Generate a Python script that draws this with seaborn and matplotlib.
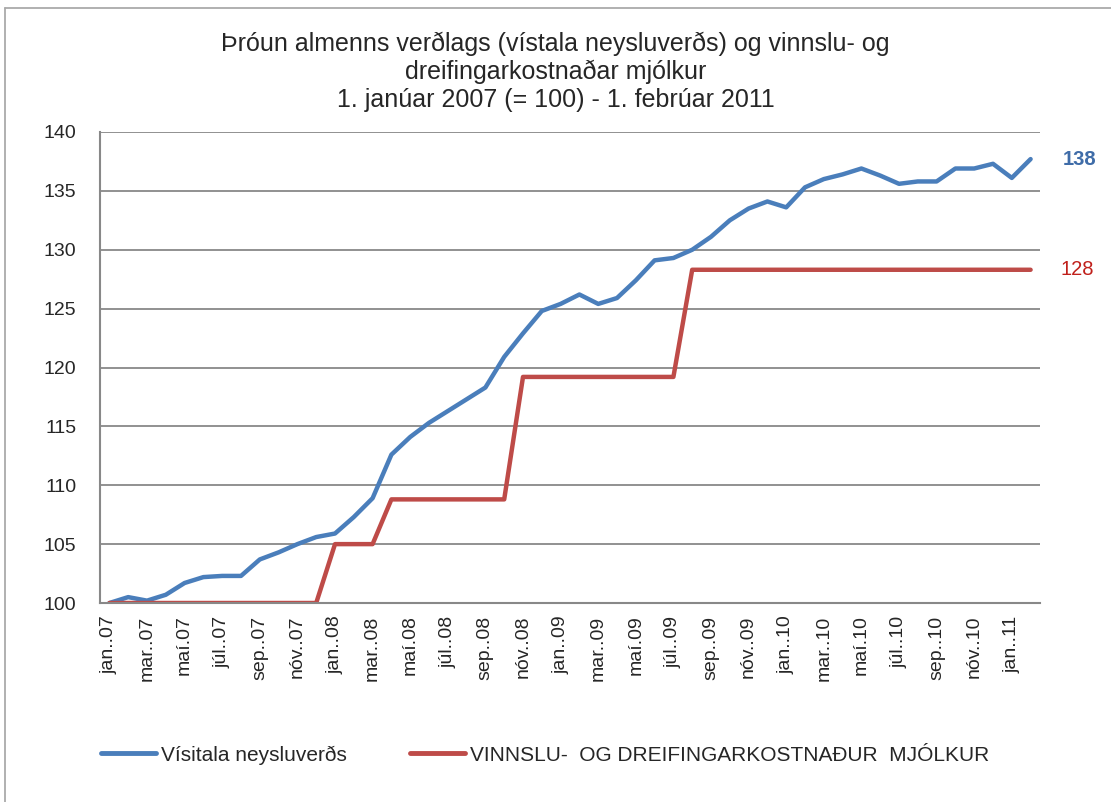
import matplotlib
matplotlib.use("Agg")
import matplotlib.pyplot as plt
import seaborn as sns
import pandas as pd
from matplotlib.lines import Line2D

# monthly values, jan 2007 - feb 2011
visitala = [
    100.0, 100.5, 100.2, 100.7, 101.7, 102.2, 102.3, 102.3, 103.7, 104.3, 105.0, 105.6,
    105.9, 107.3, 108.9, 112.6, 114.1, 115.3, 116.3, 117.3, 118.3, 120.9, 122.9, 124.8,
    125.4, 126.2, 125.4, 125.9, 127.4, 129.1, 129.3, 130.0, 131.1, 132.5, 133.5, 134.1,
    133.6, 135.3, 136.0, 136.4, 136.9, 136.3, 135.6, 135.8, 135.8, 136.9, 136.9, 137.3,
    136.1, 137.7,
]
kostnadur = (
    [100.0] * 12
    + [105.0] * 3
    + [108.8] * 7
    + [119.2] * 9
    + [128.3] * 19
)
tick_labels = [
    "jan..07", "mar..07", "maí.07", "júl..07", "sep..07", "nóv..07",
    "jan..08", "mar..08", "maí.08", "júl..08", "sep..08", "nóv..08",
    "jan..09", "mar..09", "maí.09", "júl..09", "sep..09", "nóv..09",
    "jan..10", "mar..10", "maí.10", "júl..10", "sep..10", "nóv..10",
    "jan..11",
]
series_names = ["Vísitala neysluverðs", "VINNSLU-  OG DREIFINGARKOSTNAÐUR  MJÓLKUR"]
end_labels = ["138", "128"]

blue = "#4A7EBB"
red = "#BE4B48"
grid_col = "#888888"

df = pd.DataFrame({"idx": range(len(visitala)), "vis": visitala, "kos": kostnadur})

sns.set_style("white")
plt.rcParams["font.family"] = ["Liberation Sans", "DejaVu Sans"]

fig = plt.figure(figsize=(11.11, 8.02), dpi=100)
ax = fig.add_axes([100 / 1111, 1 - 603 / 802, 940 / 1111, 471 / 802])

sns.lineplot(data=df, x="idx", y="vis", color=blue, linewidth=3.2, ax=ax)
sns.lineplot(data=df, x="idx", y="kos", color=red, linewidth=3.2, ax=ax)

ax.set_xlim(-0.5, len(visitala) - 0.5)
ax.set_ylim(100, 140)
ax.set_yticks(range(100, 141, 5))
ax.yaxis.grid(True, color=grid_col, linewidth=1.3)
ax.xaxis.grid(False)
for s in ["top", "right"]:
    ax.spines[s].set_visible(False)
for s in ["left", "bottom"]:
    ax.spines[s].set_color(grid_col)
    ax.spines[s].set_linewidth(1.5)

# category boundaries as ticks, labels at every second month
ax.set_xticks([i - 0.5 for i in range(0, len(visitala), 2)] + [len(visitala) - 0.5])
ax.set_xticklabels([])
ax.set_xticks(list(range(0, len(visitala), 2)), minor=True)
ax.set_xticklabels(tick_labels, minor=True, rotation=90, fontsize=14)
ax.tick_params(axis="x", which="major", direction="out", length=6, color=grid_col, width=1.3)
ax.tick_params(axis="x", which="minor", length=0, pad=9)
ax.tick_params(axis="y", direction="out", length=6, color=grid_col, width=1.3, labelsize=14, pad=11)
ax.set_xlabel("")
ax.set_ylabel("")

ax.annotate(end_labels[0], xy=(df["idx"].iloc[-1], visitala[-1]), xytext=(32, 0),
            textcoords="offset pixels", va="center", ha="left", fontsize=14.5,
            fontweight="bold", color="#3F6CA8")
ax.annotate(end_labels[1], xy=(df["idx"].iloc[-1], kostnadur[-1]), xytext=(30, 0),
            textcoords="offset pixels", va="center", ha="left", fontsize=14.5,
            color="#C0201B")

fig.text(0.5, 1 - 72 / 802,
         "Þróun almenns verðlags (vístala neysluverðs) og vinnslu- og\n"
         "dreifingarkostnaðar mjólkur\n"
         "1. janúar 2007 (= 100) - 1. febrúar 2011",
         ha="center", va="center", fontsize=18, linespacing=1.2)

handles = [Line2D([], [], color=blue, linewidth=3.5), Line2D([], [], color=red, linewidth=3.5)]
fig.legend(handles, series_names, loc="center left", bbox_to_anchor=(82 / 1111, 1 - 755 / 802),
           ncol=2, frameon=False, fontsize=15, handlelength=2.65, handletextpad=0.25,
           columnspacing=3.0)

# outer chart border (top and left visible)
fig.add_artist(Line2D([5 / 1111, 1], [1 - 8 / 802, 1 - 8 / 802], color="#AAAAAA", linewidth=1.3))
fig.add_artist(Line2D([5 / 1111, 5 / 1111], [0, 1 - 8 / 802], color="#AAAAAA", linewidth=1.3))

fig.savefig("out.png", dpi=100)
